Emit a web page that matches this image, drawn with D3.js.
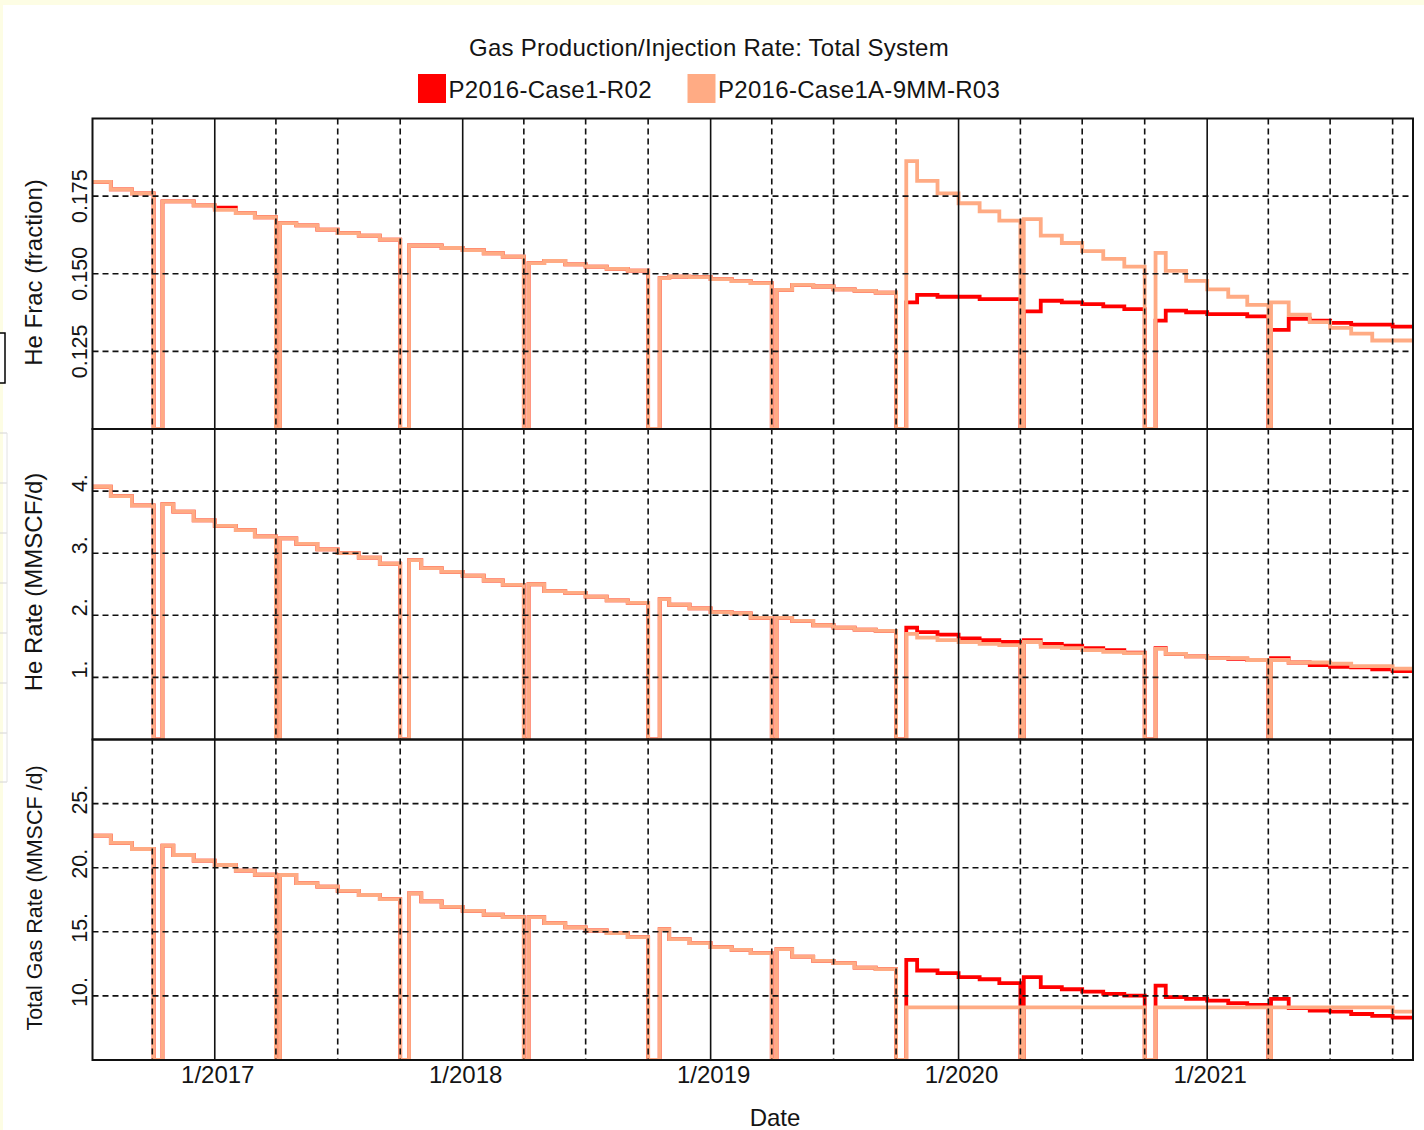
<!DOCTYPE html>
<html>
<head>
<meta charset="utf-8">
<script src="https://cdn.jsdelivr.net/npm/d3@7"></script>
<style>
  html, body { margin: 0; padding: 0; background: #ffffff; }
  svg { display: block; }
  text { font-family: "Liberation Sans", Arial, sans-serif; fill: #141414; }
</style>
</head>
<body>
<svg id="chart" width="1424" height="1130"></svg>
<script>
// ---------------------------------------------------------------------------
// Data: monthly step values; 0 marks a field shut-in (turnaround) period.
// ---------------------------------------------------------------------------
const seriesNames  = ["P2016-Case1-R02", "P2016-Case1A-9MM-R03"];
const seriesColors = ["#ff0000", "#ffab84"];

// History shared by both cases (through the Oct-2019 turnaround)
const historyDates = [
  "2016-07-05","2016-08-01","2016-09-01","2016-10-03","2016-10-16","2016-11-01","2016-12-01",
  "2017-01-01","2017-02-01","2017-03-01","2017-04-01","2017-04-07","2017-05-01","2017-06-01",
  "2017-07-01","2017-08-01","2017-09-01","2017-10-01","2017-10-14","2017-11-01","2017-12-01",
  "2018-01-01","2018-02-01","2018-03-01","2018-04-01","2018-04-08","2018-05-01","2018-06-01",
  "2018-07-01","2018-08-01","2018-09-01","2018-10-01","2018-10-18","2018-11-01","2018-12-01",
  "2019-01-01","2019-02-01","2019-03-01","2019-04-01","2019-04-08","2019-05-01","2019-06-01",
  "2019-07-01","2019-08-01","2019-09-01","2019-10-01"
];
const heFracHistory = [
  0.1796,0.1772,0.1759,0,0.1733,0.1733,0.1720,
  0.1706,0.1695,0.1682,0,0.1663,0.1656,0.1642,
  0.1631,0.1623,0.1610,0,0.1591,0.1591,0.1583,
  0.1576,0.1566,0.1555,0,0.1534,0.1541,0.1530,
  0.1523,0.1516,0.1510,0,0.1486,0.1491,0.1489,
  0.1483,0.1476,0.1470,0,0.1448,0.1464,0.1459,
  0.1450,0.1445,0.1439,0
];
const heRateHistory = [
  4.07,3.92,3.77,0,3.79,3.67,3.53,
  3.44,3.37,3.27,0,3.24,3.15,3.06,
  3.00,2.93,2.83,0,2.89,2.76,2.70,
  2.64,2.56,2.49,0,2.50,2.39,2.36,
  2.30,2.24,2.20,0,2.26,2.17,2.11,
  2.05,2.03,1.96,0,1.96,1.91,1.84,
  1.80,1.77,1.75,0
];
const gasRateHistory = [
  22.50,21.93,21.46,0,21.72,20.99,20.55,
  20.21,19.77,19.45,0,19.43,18.80,18.52,
  18.20,17.87,17.55,0,18.00,17.37,16.95,
  16.64,16.33,16.15,0,16.15,15.68,15.34,
  15.10,14.90,14.59,0,15.21,14.43,14.12,
  13.80,13.59,13.33,0,13.65,13.07,12.73,
  12.55,12.21,12.09,0
];
// Case1-R02 He fraction differs slightly from the shared history here
const heFracR02HistoryEdits = [["2017-01-01", 0.1713]];

// Forecast after the Oct-2019 turnaround
const forecastDates = [
  "2019-10-16","2019-11-01","2019-12-01","2020-01-01","2020-02-01","2020-03-01","2020-04-01",
  "2020-04-06","2020-05-01","2020-06-01","2020-07-01","2020-08-01","2020-09-01","2020-10-01",
  "2020-10-17","2020-11-01","2020-12-01","2021-01-01","2021-02-01","2021-03-01","2021-04-01",
  "2021-04-05","2021-05-01","2021-06-01","2021-07-01","2021-08-01","2021-09-01","2021-10-01"
];
const heFracR02 = [
  0.1408,0.1432,0.1426,0.1426,0.1418,0.1418,0,
  0.1379,0.1413,0.1408,0.1402,0.1395,0.1386,0,
  0.1349,0.1381,0.1376,0.1370,0.1370,0.1363,0,
  0.1319,0.1355,0.1349,0.1342,0.1336,0.1336,0.1330
];
const heFracR03 = [
  0.1863,0.1799,0.1759,0.1727,0.1701,0.1671,0,
  0.1676,0.1623,0.1599,0.1573,0.1548,0.1523,0,
  0.1567,0.1509,0.1477,0.1450,0.1426,0.1400,0,
  0.1408,0.1368,0.1344,0.1326,0.1307,0.1285,0.1285
];
const heRateR02 = [
  1.80,1.73,1.69,1.63,1.60,1.57,0,
  1.60,1.54,1.51,1.47,1.44,1.40,0,
  1.47,1.38,1.34,1.31,1.30,1.28,0,
  1.31,1.24,1.20,1.17,1.16,1.13,1.10
];
const heRateR03 = [
  1.70,1.64,1.60,1.57,1.54,1.52,0,
  1.57,1.49,1.47,1.44,1.41,1.39,0,
  1.46,1.38,1.34,1.31,1.31,1.28,0,
  1.28,1.24,1.24,1.22,1.18,1.18,1.14
];
const gasRateR02 = [
  12.81,11.98,11.77,11.46,11.30,10.99,0,
  11.46,10.68,10.52,10.34,10.16,10.02,0,
  10.80,9.90,9.77,9.63,9.43,9.30,0,
  9.77,9.05,8.86,8.78,8.59,8.44,8.30
];
const gasRateR03 = [
  9.10,9.10,9.10,9.10,9.10,9.10,0,
  9.10,9.10,9.10,9.10,9.10,9.10,0,
  9.10,9.10,9.10,9.10,9.10,9.10,0,
  9.10,9.10,9.10,9.10,9.10,9.10,8.78
];

// Axes
const xDomain       = ["2016-07-05", "2021-10-31"];
const yearTicks     = ["2017-01-01","2018-01-01","2019-01-01","2020-01-01","2021-01-01"];
const yearLabels    = ["1/2017","1/2018","1/2019","1/2020","1/2021"];
const quarterTicks  = ["2016-10-01","2017-04-01","2017-07-01","2017-10-01","2018-04-01","2018-07-01",
                       "2018-10-01","2019-04-01","2019-07-01","2019-10-01","2020-04-01","2020-07-01",
                       "2020-10-01","2021-04-01","2021-07-01","2021-10-01"];
const heFracTicks   = [0.125, 0.150, 0.175];
const heFracLabels  = ["0.125", "0.150", "0.175"];
const heRateTicks   = [1, 2, 3, 4];
const heRateLabels  = ["1.", "2.", "3.", "4."];
const gasRateTicks  = [10, 15, 20, 25];
const gasRateLabels = ["10.", "15.", "20.", "25."];
const axisTitles    = ["He Frac (fraction)", "He Rate (MMSCF/d)", "Total Gas Rate (MMSCF /d)"];
const chartTitle    = "Gas Production/Injection Rate: Total System";
const xTitle        = "Date";

// ---------------------------------------------------------------------------
// Layout
// ---------------------------------------------------------------------------
const parse = d3.timeParse("%Y-%m-%d");
const plotLeft = 92.5, plotRight = 1413;
const svg = d3.select("#chart");

const x = d3.scaleTime().domain(xDomain.map(parse)).range([plotLeft, plotRight]);

// page backdrop (pale host window edge around the white plot sheet)
svg.append("rect").attr("x", 0).attr("y", 0).attr("width", 1424).attr("height", 1130).attr("fill", "#fdfde4");
svg.append("rect").attr("x", 3).attr("y", 5).attr("width", 1421).attr("height", 1125).attr("fill", "#ffffff");
svg.append("rect").attr("x", -2).attr("y", 333).attr("width", 7).attr("height", 50)
   .attr("fill", "#ffffff").attr("stroke", "#000").attr("stroke-width", 1.5);
const edgeMarks = [433, 483, 533, 583, 633, 683, 733, 782];
svg.append("g").selectAll("line").data(edgeMarks).join("line")
   .attr("x1", 0).attr("x2", 7).attr("y1", d => d).attr("y2", d => d)
   .attr("stroke", "#d4d4d4").attr("stroke-width", 1);
svg.append("line").attr("x1", 7).attr("x2", 7).attr("y1", 433).attr("y2", 782)
   .attr("stroke", "#e2e2e2").attr("stroke-width", 1);

function toPoints(dates, values) {
  return dates.map((d, i) => ({ date: parse(d), value: values[i] }));
}
function withEdits(dates, values, edits) {
  const out = values.slice();
  edits.forEach(([d, v]) => { const i = dates.indexOf(d); if (i >= 0) out[i] = v; });
  return out;
}
function buildSeries(histVals, fcDates, fcVals) {
  const pts = toPoints(historyDates, histVals).concat(toPoints(fcDates, fcVals));
  pts.push({ date: x.domain()[1], value: pts[pts.length - 1].value });
  return pts;
}

const panels = [
  { top: 118.5, bottom: 429,   domain: [0.1, 0.2], ticks: heFracTicks,  labels: heFracLabels,
    title: axisTitles[0], titleY: 272.5, titleSize: 24, anchor: "middle", shift: 0,
    r02: buildSeries(withEdits(historyDates, heFracHistory, heFracR02HistoryEdits), forecastDates, heFracR02),
    r03: buildSeries(heFracHistory, forecastDates, heFracR03) },
  { top: 429,   bottom: 739.5, domain: [0, 5],     ticks: heRateTicks,  labels: heRateLabels,
    title: axisTitles[1], titleY: 582, titleSize: 24, anchor: "start", shift: 1,
    r02: buildSeries(heRateHistory, forecastDates, heRateR02),
    r03: buildSeries(heRateHistory, forecastDates, heRateR03) },
  { top: 739.5, bottom: 1060,  domain: [5, 30],    ticks: gasRateTicks, labels: gasRateLabels,
    title: axisTitles[2], titleY: 898, titleSize: 21.5, anchor: "start", shift: 11,
    r02: buildSeries(gasRateHistory, forecastDates, gasRateR02),
    r03: buildSeries(gasRateHistory, forecastDates, gasRateR03) }
];

const defs = svg.append("defs");

panels.forEach((p, k) => {
  const y = d3.scaleLinear().domain(p.domain).range([p.bottom, p.top]).clamp(true);
  const clipId = "clip-panel-" + k;
  defs.append("clipPath").attr("id", clipId).append("rect")
      .attr("x", plotLeft).attr("y", p.top).attr("width", plotRight - plotLeft).attr("height", p.bottom - p.top);

  const g = svg.append("g");

  // data lines: Case1 underneath, Case1A on top
  const line = d3.line().x(d => x(d.date)).y(d => y(d.value)).curve(d3.curveStepAfter);
  const lg = g.append("g").attr("clip-path", `url(#${clipId})`);
  [[p.r02, seriesColors[0]], [p.r03, seriesColors[1]]].forEach(([pts, col]) => {
    lg.append("path").datum(pts).attr("d", line)
      .attr("fill", "none").attr("stroke", col).attr("stroke-width", 3.8)
      .attr("stroke-linejoin", "miter").attr("stroke-linecap", "butt");
  });

  // horizontal dashed grid
  g.append("g").selectAll("line").data(p.ticks).join("line")
    .attr("x1", plotLeft).attr("x2", plotRight)
    .attr("y1", d => y(d)).attr("y2", d => y(d))
    .attr("stroke", "#111").attr("stroke-width", 1.6).attr("stroke-dasharray", "6,4");

  // rotated tick labels
  g.append("g").selectAll("text").data(p.ticks).join("text")
    .attr("transform", (d) => `translate(87,${y(d) + p.shift}) rotate(-90)`)
    .attr("text-anchor", p.anchor)
    .style("font-size", "21.5px")
    .text((d, i) => p.labels[i]);

  // axis title
  svg.append("text")
    .attr("transform", `translate(42,${p.titleY}) rotate(-90)`)
    .attr("text-anchor", "middle")
    .style("font-size", p.titleSize + "px")
    .text(p.title);
});

// vertical grid through all three panels
const gridTop = panels[0].top, gridBottom = panels[2].bottom;
svg.append("g").selectAll("line").data(quarterTicks.map(parse)).join("line")
  .attr("x1", d => x(d)).attr("x2", d => x(d)).attr("y1", gridTop).attr("y2", gridBottom)
  .attr("stroke", "#111").attr("stroke-width", 1.6).attr("stroke-dasharray", "6,4");
svg.append("g").selectAll("line").data(yearTicks.map(parse)).join("line")
  .attr("x1", d => x(d)).attr("x2", d => x(d)).attr("y1", gridTop).attr("y2", gridBottom)
  .attr("stroke", "#111").attr("stroke-width", 1.6);

// panel frames
panels.forEach(p => {
  svg.append("rect").attr("x", plotLeft).attr("y", p.top)
    .attr("width", plotRight - plotLeft).attr("height", p.bottom - p.top)
    .attr("fill", "none").attr("stroke", "#111").attr("stroke-width", 2);
});

// x tick labels
svg.append("g").selectAll("text").data(yearTicks).join("text")
  .attr("x", d => x(parse(d)) + 3).attr("y", 1083)
  .attr("text-anchor", "middle").style("font-size", "24px")
  .text((d, i) => yearLabels[i]);

svg.append("text").attr("x", 775).attr("y", 1126).attr("text-anchor", "middle")
  .style("font-size", "24px").text(xTitle);

// title and legend
svg.append("text").attr("x", 709).attr("y", 56).attr("text-anchor", "middle")
  .style("font-size", "24px").style("letter-spacing", "0.25px").text(chartTitle);

const legendX = [418, 687.5];
const legend = svg.append("g");
seriesNames.forEach((name, i) => {
  legend.append("rect").attr("x", legendX[i]).attr("y", 74).attr("width", 28).attr("height", 29)
    .attr("fill", seriesColors[i]);
  legend.append("text").attr("x", legendX[i] + 30.5).attr("y", 98)
    .style("font-size", "24px").style("letter-spacing", "0.3px").text(name);
});
</script>
</body>
</html>
